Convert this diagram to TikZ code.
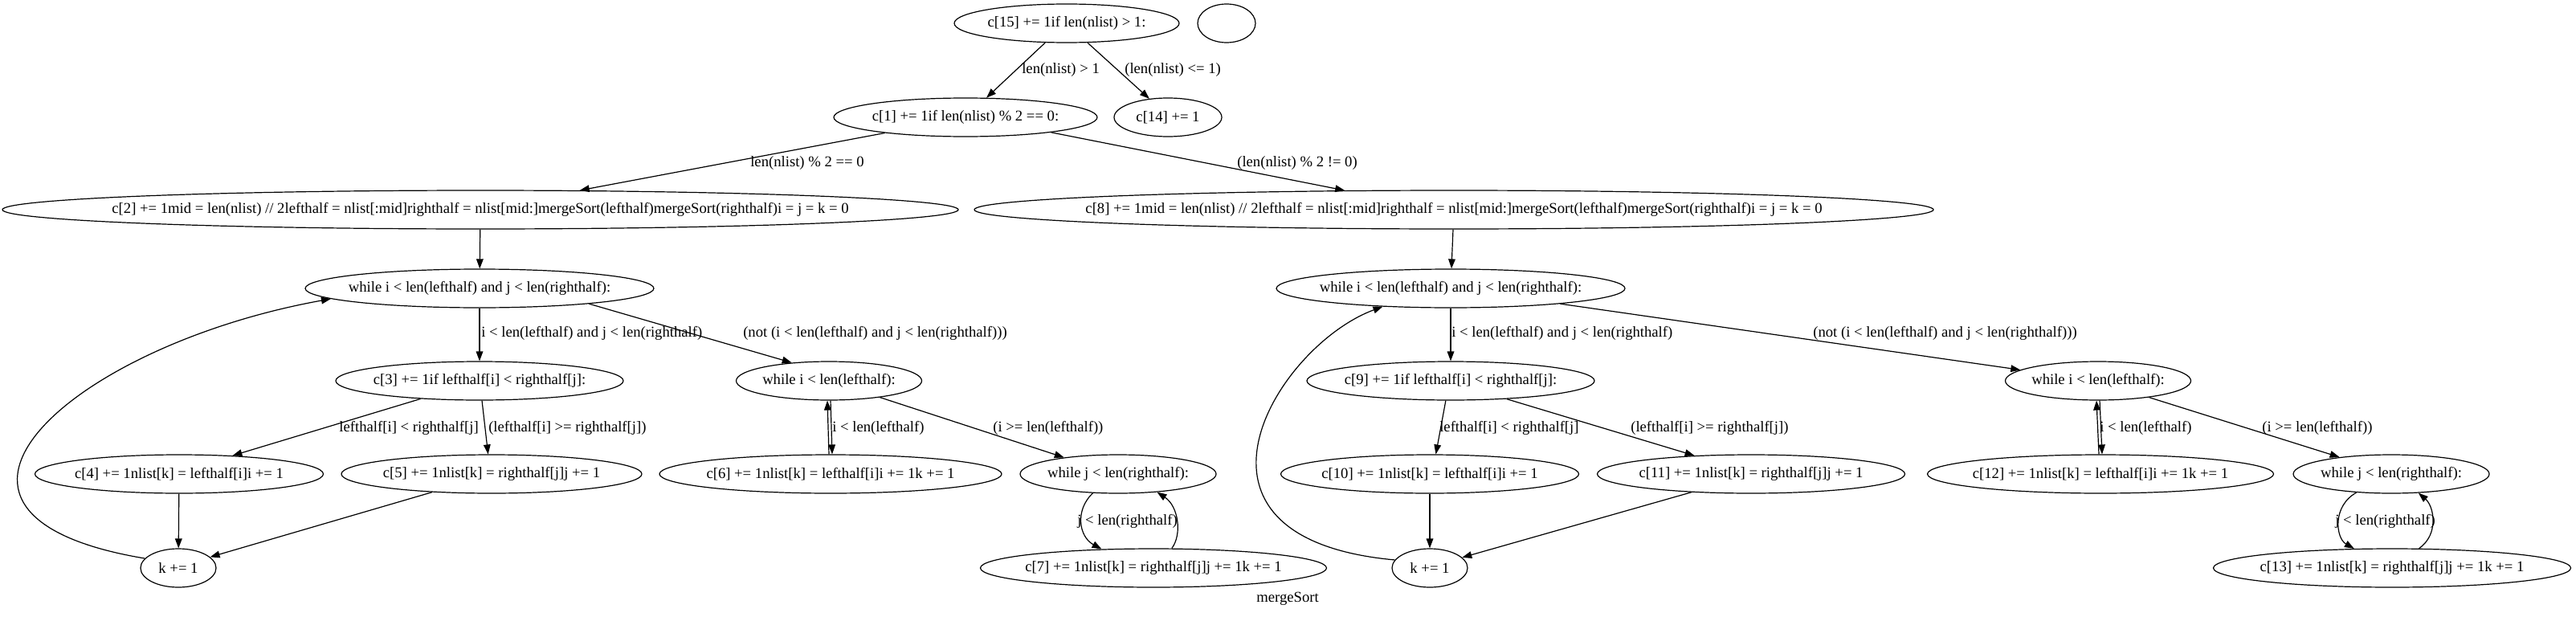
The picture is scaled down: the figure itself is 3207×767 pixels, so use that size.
\documentclass[tikz,border=0pt]{standalone}
\usepackage{fontspec}
\setmainfont{Liberation Serif}
\usetikzlibrary{shapes.geometric,arrows.meta}
\newcommand\zb[1]{\makebox[0pt]{#1}}
\tikzset{
  el/.style={ellipse, draw, line width=0.9pt, inner sep=0pt, minimum height=36pt, font=\fontsize{14pt}{16pt}\selectfont},
  wd/.style={minimum width=#1*0.75pt},
  lbl/.style={inner sep=0pt, anchor=west, font=\fontsize{14pt}{16pt}\selectfont},
  arr/.style={draw, line width=0.9pt, -{Triangle[length=9pt,width=6.5pt]}},
}
\begin{document}
\begin{tikzpicture}[x=0.75pt, y=-0.75pt]
\useasboundingbox (0,0) rectangle (3207,767);
% nodes
\node[el, wd=280] (n15) at (1328,29) {\zb{c[15] += 1if len(nlist) > 1:}};
\node[el, wd=72] (emp) at (1527,29) {};
\node[el, wd=328] (n1) at (1202,146) {\zb{c[1] += 1if len(nlist) \% 2 == 0:}};
\node[el, wd=134] (n14) at (1454,146) {\zb{c[14] += 1}};
\node[el, wd=1190] (n2) at (598,261) {\zb{c[2] += 1mid = len(nlist) // 2lefthalf = nlist[:mid]righthalf = nlist[mid:]mergeSort(lefthalf)mergeSort(righthalf)i = j = k = 0}};
\node[el, wd=1194] (n8) at (1810,261) {\zb{c[8] += 1mid = len(nlist) // 2lefthalf = nlist[:mid]righthalf = nlist[mid:]mergeSort(lefthalf)mergeSort(righthalf)i = j = k = 0}};
\node[el, wd=434] (w1) at (597,359) {\zb{while i < len(lefthalf) and j < len(righthalf):}};
\node[el, wd=434] (w2) at (1806,359) {\zb{while i < len(lefthalf) and j < len(righthalf):}};
\node[el, wd=358] (c3) at (597,474) {\zb{c[3] += 1if lefthalf[i] < righthalf[j]:}};
\node[el, wd=231] (wl1) at (1032,474) {\zb{while i < len(lefthalf):}};
\node[el, wd=358] (c9) at (1806,474) {\zb{c[9] += 1if lefthalf[i] < righthalf[j]:}};
\node[el, wd=231] (wl2) at (2612,474) {\zb{while i < len(lefthalf):}};
\node[el, wd=359] (c4) at (223,590) {\zb{c[4] += 1nlist[k] = lefthalf[i]i += 1}};
\node[el, wd=374] (c5) at (612,590) {\zb{c[5] += 1nlist[k] = righthalf[j]j += 1}};
\node[el, wd=426] (c6) at (1034,590) {\zb{c[6] += 1nlist[k] = lefthalf[i]i += 1k += 1}};
\node[el, wd=244] (wr1) at (1392,590) {\zb{while j < len(righthalf):}};
\node[el, wd=371] (c10) at (1780,590) {\zb{c[10] += 1nlist[k] = lefthalf[i]i += 1}};
\node[el, wd=383] (c11) at (2180,590) {\zb{c[11] += 1nlist[k] = righthalf[j]j += 1}};
\node[el, wd=431] (c12) at (2615,590) {\zb{c[12] += 1nlist[k] = lefthalf[i]i += 1k += 1}};
\node[el, wd=244] (wr2) at (2977,590) {\zb{while j < len(righthalf):}};
\node[el, wd=94] (k1) at (222,707) {\zb{k += 1}};
\node[el, wd=431] (c7) at (1436,707) {\zb{c[7] += 1nlist[k] = righthalf[j]j += 1k += 1}};
\node[el, wd=94] (k2) at (1780,707) {\zb{k += 1}};
\node[el, wd=445] (c13) at (2978,707) {\zb{c[13] += 1nlist[k] = righthalf[j]j += 1k += 1}};
% edges
\draw[arr] (n15.222) -- (n1.43);
\draw[arr] (n15.317) -- (n14.135);
\draw[arr] (n1.191) -- (n2.11);
\draw[arr] (n1.350) -- (n8.170);
\draw[arr] (n2) -- (w1);
\draw[arr] (n8) -- (w2);
\draw[arr] (w1) -- (c3);
\draw[arr] (w1.352) -- (wl1.154);
\draw[arr] (w2) -- (c9);
\draw[arr] (w2.352) -- (wl2.172);
\draw[arr] (c3.197) -- (c4.19);
\draw[arr] (c3.277) -- (c5.100);
\draw[arr] (c4) -- (k1);
\draw[arr] (c5.197) -- (k1.19);
\draw[arr] (k1.164) .. controls (-150,640) and (90,430) .. (w1.184);
\draw[arr] ([xshift=1.5pt]wl1.south) -- ([xshift=1.5pt]c6.north);
\draw[arr] ([xshift=-1.5pt]c6.north) -- ([xshift=-1.5pt]wl1.south);
\draw[arr] (wl1.342) -- (wr1.163);
\draw[arr] (wr1.217) .. controls (1338,635) and (1343,668) .. (c7.160);
\draw[arr] (c7.47) .. controls (1472,665) and (1467,630) .. (wr1.335);
\draw[arr] (c9.256) -- (c10.73);
\draw[arr] (c9.342) -- (c11.162);
\draw[arr] (c10) -- (k2);
\draw[arr] (c11.197) -- (k2.18);
\draw[arr] (k2.167) .. controls (1440,670) and (1590,430) .. (w2.195);
\draw[arr] ([xshift=1.5pt]wl2.south) -- ([xshift=1.5pt]c12.north);
\draw[arr] ([xshift=-1.5pt]c12.north) -- ([xshift=-1.5pt]wl2.south);
\draw[arr] (wl2.342) -- (wr2.162);
\draw[arr] (wr2.208) .. controls (2903,630) and (2908,670) .. (c13.153);
\draw[arr] (c13.36) .. controls (3037,665) and (3030,630) .. (wr2.325);
% labels
\node[lbl] (la1) at (1272,87) {len(nlist) > 1};
\node[lbl] (la2) at (1400,87) {(len(nlist) <= 1)};
\node[lbl] (la3) at (934,203) {len(nlist) \% 2 == 0};
\node[lbl] (la4) at (1540,203) {(len(nlist) \% 2 != 0)};
\node[lbl] (la5) at (599,415) {i < len(lefthalf) and j < len(righthalf)};
\node[lbl] (la6) at (925,415) {(not (i < len(lefthalf) and j < len(righthalf)))};
\node[lbl] (la7) at (1807,415) {i < len(lefthalf) and j < len(righthalf)};
\node[lbl] (la8) at (2257,415) {(not (i < len(lefthalf) and j < len(righthalf)))};
\node[lbl, anchor=east] (la9) at (596,533) {lefthalf[i] < righthalf[j]};
\node[lbl] (la10) at (608,533) {(lefthalf[i] >= righthalf[j])};
\node[lbl] (la11) at (1036,533) {i < len(lefthalf)};
\node[lbl] (la12) at (1236,533) {(i >= len(lefthalf))};
\node[lbl] (la13) at (1792,533) {lefthalf[i] < righthalf[j]};
\node[lbl] (la14) at (2030,533) {(lefthalf[i] >= righthalf[j])};
\node[lbl] (la15) at (2614,533) {i < len(lefthalf)};
\node[lbl] (la16) at (2816,533) {(i >= len(lefthalf))};
\node[lbl] (la17) at (1341,649) {j < len(righthalf)};
\node[lbl] (la18) at (2907,649) {j < len(righthalf)};
\node[lbl, anchor=center] (title) at (1603,745) {mergeSort};
\end{tikzpicture}
\end{document}
